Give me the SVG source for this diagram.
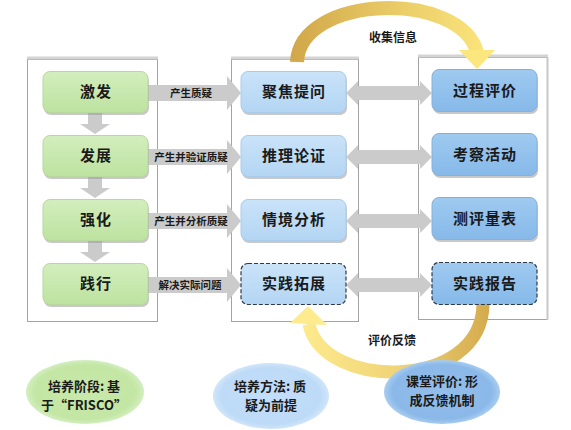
<svg xmlns="http://www.w3.org/2000/svg" width="571" height="430" viewBox="0 0 571 430">
<style>
.panel{fill:#ffffff;stroke:#a3a3a3;stroke-width:1}
.ptop{stroke:#d4d4d4;stroke-width:3}
.g{fill:url(#gGreen);stroke:#b9d8a0;stroke-width:1}
.b{fill:url(#gBlue);stroke:#a9cbe8;stroke-width:1}
.r{fill:url(#gBlue2);stroke:#86b0dc;stroke-width:1}
.dash{stroke:#2f3a48;stroke-width:1.2;stroke-dasharray:4 2}
.sh{fill:#9a9a9a;opacity:0.55}
.lbl{font-family:"Noto Sans CJK SC","Liberation Serif",serif;font-size:15px;font-weight:bold;fill:#1a1a1a;text-anchor:middle;letter-spacing:1px}
.sm{font-family:"Noto Sans CJK SC","Liberation Sans",sans-serif;font-size:10.5px;font-weight:bold;fill:#1a1a1a;text-anchor:middle}
.el{font-family:"Noto Sans CJK SC","Liberation Serif",serif;font-size:13px;font-weight:bold;fill:#1a1a1a;text-anchor:middle}
.cap{font-family:"Noto Sans CJK SC","Liberation Sans",sans-serif;font-size:12px;font-weight:bold;fill:#1a1a1a;text-anchor:middle}
.arr{fill:#cbcbcb}
</style>
<defs>
<linearGradient id="gGreen" x1="0" y1="0" x2="0" y2="1"><stop offset="0" stop-color="#d3eebd"/><stop offset="1" stop-color="#bde3a0"/></linearGradient>
<linearGradient id="gBlue" x1="0" y1="0" x2="0" y2="1"><stop offset="0" stop-color="#c9e3f9"/><stop offset="1" stop-color="#b3d5f3"/></linearGradient>
<linearGradient id="gBlue2" x1="0" y1="0" x2="0" y2="1"><stop offset="0" stop-color="#9fcaf0"/><stop offset="1" stop-color="#86b9e9"/></linearGradient>
<linearGradient id="arcTop" gradientUnits="userSpaceOnUse" x1="295" y1="0" x2="492" y2="0"><stop offset="0" stop-color="#d2a84a"/><stop offset="0.5" stop-color="#e9cb66"/><stop offset="1" stop-color="#fce67e"/></linearGradient>
<linearGradient id="arcBot" gradientUnits="userSpaceOnUse" x1="300" y1="0" x2="492" y2="0"><stop offset="0" stop-color="#fdeb8e"/><stop offset="0.5" stop-color="#f0d477"/><stop offset="1" stop-color="#d3aa4c"/></linearGradient>
<radialGradient id="eG" cx="0.5" cy="0.5" r="0.5"><stop offset="0" stop-color="#c8e9aa"/><stop offset="0.85" stop-color="#c3e6a4"/><stop offset="1" stop-color="#d3eec0"/></radialGradient>
<radialGradient id="eB" cx="0.5" cy="0.5" r="0.5"><stop offset="0" stop-color="#c2defa"/><stop offset="0.85" stop-color="#bddaf6"/><stop offset="1" stop-color="#d0e6fa"/></radialGradient>
<radialGradient id="eD" cx="0.5" cy="0.5" r="0.5"><stop offset="0" stop-color="#94bfec"/><stop offset="0.85" stop-color="#8ab8e8"/><stop offset="1" stop-color="#a8cdf0"/></radialGradient>
</defs>

<g id="panels">
<rect class="panel" x="27.5" y="59.5" width="130" height="262"/>
<line class="ptop" x1="27" y1="58" x2="158" y2="58"/>
<rect class="panel" x="231.5" y="59.5" width="127" height="262"/>
<line class="ptop" x1="231" y1="58" x2="359" y2="58"/>
<rect class="panel" x="418.5" y="57.5" width="129" height="262"/>
<line class="ptop" x1="418" y1="56" x2="548" y2="56"/>
<line x1="547.5" y1="57" x2="547.5" y2="320" stroke="#c8c8c8" stroke-width="2"/>
</g>

<g id="connectors">
<polygon class="arr" points="88,113 102,113 102,124 110,124 95,134 80,124 88,124"/>
<polygon class="arr" points="88,177 102,177 102,188 110,188 95,198 80,188 88,188"/>
<polygon class="arr" points="88,241 102,241 102,252 110,252 95,262 80,252 88,252"/>
<polygon class="arr" points="148,85 227,85 227,76 241,93 227,110 227,101 148,101"/>
<polygon class="arr" points="148,149 227,149 227,140 241,157 227,174 227,165 148,165"/>
<polygon class="arr" points="148,213 227,213 227,204 241,221 227,238 227,229 148,229"/>
<polygon class="arr" points="148,277 227,277 227,268 241,285 227,302 227,293 148,293"/>
<polygon class="arr" points="346,93 358,81 358,86 420,86 420,81 432,93 420,105 420,100 358,100 358,105"/>
<polygon class="arr" points="346,157 358,145 358,150 420,150 420,145 432,157 420,169 420,164 358,164 358,169"/>
<polygon class="arr" points="346,221 358,209 358,214 420,214 420,209 432,221 420,233 420,228 358,228 358,233"/>
<polygon class="arr" points="346,285 358,273 358,278 420,278 420,273 432,285 420,297 420,292 358,292 358,297"/>
<path d="M297 62 C300 -6 460 -10 477 52" fill="none" stroke="url(#arcTop)" stroke-width="14"/>
<polygon points="477,69 459,50 495,50" fill="#fce67e"/>
<path d="M483 304 C482 392 322 390 309 324" fill="none" stroke="url(#arcBot)" stroke-width="13"/>
<polygon points="308,306 290,323 327,325" fill="#fdeb8e"/>
<text class="sm" x="191" y="97">产生质疑</text>
<text class="sm" x="191" y="161">产生并验证质疑</text>
<text class="sm" x="191" y="225">产生并分析质疑</text>
<text class="sm" x="190" y="289">解决实际问题</text>
<text class="cap" x="393" y="42">收集信息</text>
<text class="cap" x="392" y="345">评价反馈</text>
</g>

<g id="n-jifa"><rect class="sh" x="44" y="74" width="105" height="41" rx="7"/><rect class="g" x="43" y="71.5" width="105" height="41" rx="7"/><text class="lbl" x="96" y="97">激发</text></g>
<g id="n-fazhan"><rect class="sh" x="44" y="138" width="105" height="41" rx="7"/><rect class="g" x="43" y="135.5" width="105" height="41" rx="7"/><text class="lbl" x="96" y="161">发展</text></g>
<g id="n-qianghua"><rect class="sh" x="44" y="202" width="105" height="41" rx="7"/><rect class="g" x="43" y="199.5" width="105" height="41" rx="7"/><text class="lbl" x="96" y="225">强化</text></g>
<g id="n-jianxing"><rect class="sh" x="44" y="266" width="105" height="41" rx="7"/><rect class="g" x="43" y="263.5" width="105" height="41" rx="7"/><text class="lbl" x="96" y="289">践行</text></g>

<g id="n-jujiao"><rect class="sh" x="242" y="74" width="105" height="41" rx="7"/><rect class="b" x="241" y="71.5" width="105" height="41" rx="7"/><text class="lbl" x="294" y="97">聚焦提问</text></g>
<g id="n-tuili"><rect class="sh" x="242" y="138" width="105" height="41" rx="7"/><rect class="b" x="241" y="135.5" width="105" height="41" rx="7"/><text class="lbl" x="294" y="161">推理论证</text></g>
<g id="n-qingjing"><rect class="sh" x="242" y="202" width="105" height="41" rx="7"/><rect class="b" x="241" y="199.5" width="105" height="41" rx="7"/><text class="lbl" x="294" y="225">情境分析</text></g>
<g id="n-tuozhan"><rect class="b dash" x="241" y="263.5" width="105" height="41" rx="7"/><text class="lbl" x="294" y="289">实践拓展</text></g>

<g id="n-guocheng"><rect class="sh" x="433" y="72" width="105" height="42" rx="7"/><rect class="r" x="432" y="69.5" width="105" height="42" rx="7"/><text class="lbl" x="485" y="96">过程评价</text></g>
<g id="n-kaocha"><rect class="sh" x="433" y="136" width="105" height="42" rx="7"/><rect class="r" x="432" y="133.5" width="105" height="42" rx="7"/><text class="lbl" x="485" y="160">考察活动</text></g>
<g id="n-liangbiao"><rect class="sh" x="433" y="200" width="105" height="42" rx="7"/><rect class="r" x="432" y="197.5" width="105" height="42" rx="7"/><text class="lbl" x="485" y="224">测评量表</text></g>
<g id="n-baogao"><rect class="r dash" x="432" y="262.5" width="105" height="42" rx="7"/><text class="lbl" x="485" y="289">实践报告</text></g>

<g id="e-stage"><ellipse cx="85" cy="392" rx="59" ry="32" fill="url(#eG)"/><text class="el" x="84" y="391">培养阶段: 基</text><text class="el" x="84" y="410">于“FRISCO”</text></g>
<g id="e-method"><ellipse cx="271" cy="396" rx="58" ry="33" fill="url(#eB)"/><text class="el" x="270" y="391">培养方法: 质</text><text class="el" x="271" y="410">疑为前提</text></g>
<g id="e-eval"><ellipse cx="442" cy="392" rx="58" ry="32" fill="url(#eD)"/><text class="el" x="442" y="386">课堂评价: 形</text><text class="el" x="442" y="405">成反馈机制</text></g>
</svg>
